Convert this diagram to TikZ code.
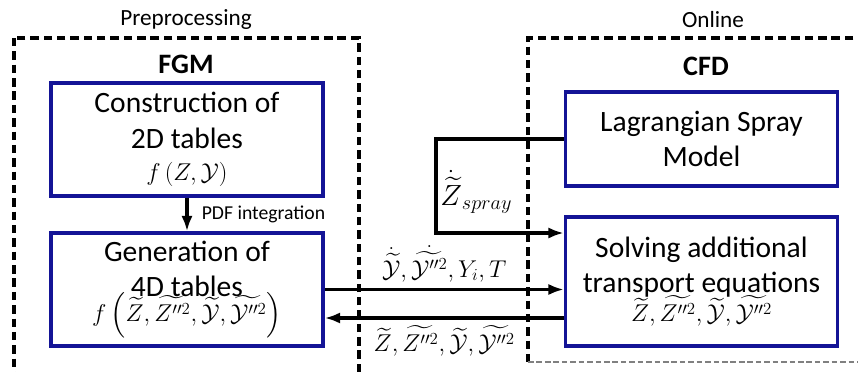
\documentclass[tikz,border=0pt]{standalone}
\usepackage{amssymb,amsmath}
\usepackage{fontspec}
\setmainfont{Carlito}
\usepackage{tikz}
\usetikzlibrary{arrows.meta,positioning,calc}

\definecolor{boxblue}{RGB}{20,20,150}

\begin{document}
\begin{tikzpicture}[x=0.025cm,y=-0.025cm,
  phase/.style={draw=black,line width=2.4pt,dash pattern=on 6pt off 3.5pt},
  block/.style={draw=boxblue,line width=2.4pt,minimum width=6.8cm,align=center,inner sep=0pt,font=\fontsize{21}{25}\selectfont},
  flow/.style={line width=2.4pt,-{Latex[length=11pt,width=8pt]}},
  formula/.style={font=\fontsize{18}{20}\selectfont}]
\clip (0,0) rectangle (858,371);
\useasboundingbox (0,0) rectangle (858,371);

% dashed phase frames
\draw[phase] (14,38) rectangle (359,400);
\draw[phase] (880,38) -- (528,38) -- (528,362);
\draw[gray,line width=0.8pt,dash pattern=on 4pt off 2pt] (528,362) -- (880,362);

\node (pre) at (186,20) [font=\fontsize{16.5}{18}\selectfont] {Preprocessing};
\node (onl) at (713,20) [font=\fontsize{16.5}{18}\selectfont] {Online};
\node (fgm) at (186,64) [font=\fontsize{20}{22}\selectfont\bfseries] {FGM};
\node (cfd) at (706,66) [font=\fontsize{20}{22}\selectfont\bfseries] {CFD};

% FGM blocks
\node (table2d) at (187,139.5) [block,minimum height=2.825cm] {Construction of\\2D tables\\[-2pt]
  {\fontsize{19}{21}\selectfont$f\left(Z,\mathcal{Y}\right)$}};
\node (table4d) at (187,289.5) [block,minimum height=2.825cm] {Generation of\\4D tables\\[-7pt]
  {\fontsize{18}{20}\selectfont$f\left(\widetilde{Z},\widetilde{Z''^2},\widetilde{\mathcal{Y}},\widetilde{\mathcal{Y}''^2}\right)$}};

% CFD blocks
\node (lagr) at (701.5,139) [block,minimum height=2.35cm] {Lagrangian Spray\\Model};
\node (solve) at (701.5,281.5) [block,minimum height=3.225cm] {Solving additional\\transport equations\\[-4pt]
  {\fontsize{18}{20}\selectfont$\widetilde{Z},\widetilde{Z''^2},\widetilde{\mathcal{Y}},\widetilde{\mathcal{Y}''^2}$}};

% connectors
\draw[flow] (table2d) -- (table4d) node[midway,right=6pt,font=\fontsize{14}{16}\selectfont] (pdf) {PDF integration};

\draw[flow] (table4d.east) -- (solve.west |- table4d.east)
  node[midway,above=1pt,formula] (src) {$\dot{\widetilde{\mathcal{Y}}},\dot{\widetilde{\mathcal{Y}''^2}},Y_i,T$};
\draw[flow] ($(solve.west |- table4d.east)+(0,28.5)$) -- ($(table4d.east)+(0,28.5)$)
  node[midway,below=1pt,formula] (ctrl) {$\widetilde{Z},\widetilde{Z''^2},\widetilde{\mathcal{Y}},\widetilde{\mathcal{Y}''^2}$};

\coordinate (bend) at (436,233);
\draw[flow] (lagr.west) -| (bend) -- (solve.west |- bend);
\node (spray) at (440,192) [anchor=west,inner sep=0pt,font=\fontsize{21}{23}\selectfont] {$\dot{\widetilde{Z}}_{spray}$};
\end{tikzpicture}
\end{document}
